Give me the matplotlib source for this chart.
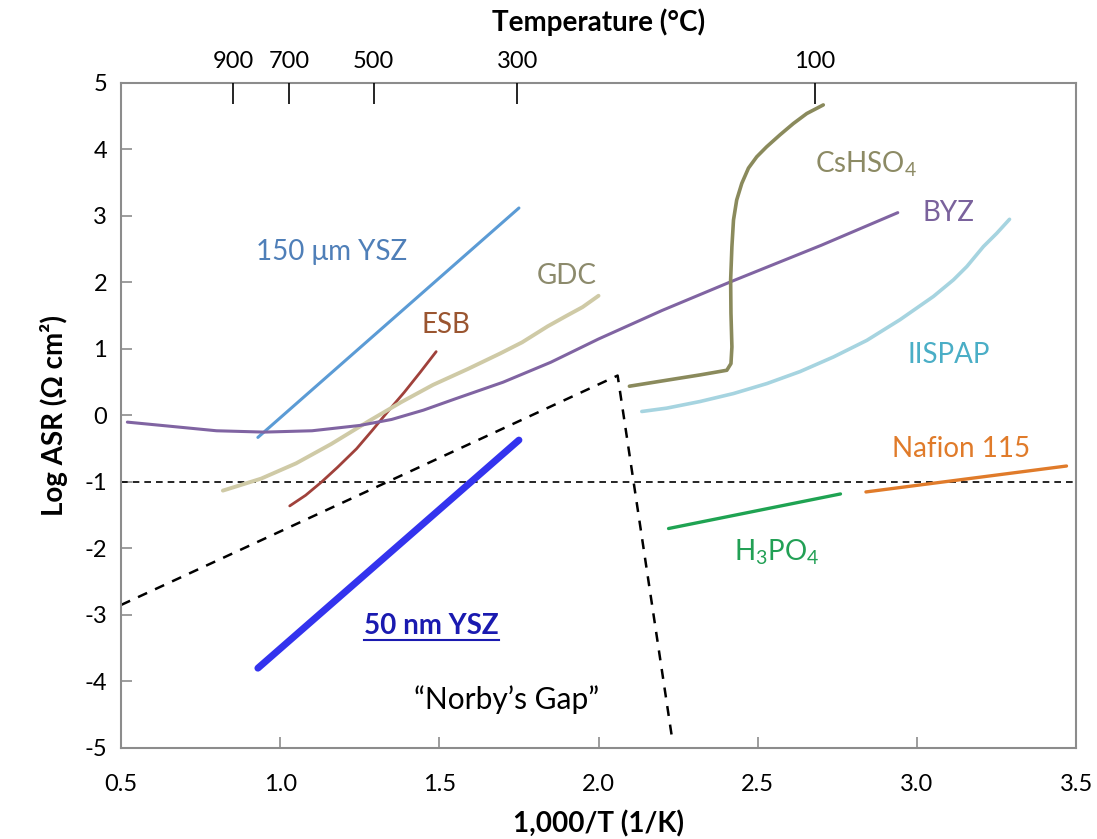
import numpy as np
import matplotlib
matplotlib.use('Agg')
import matplotlib.pyplot as plt
from matplotlib.lines import Line2D

plt.rcParams['font.family'] = ['Lato', 'DejaVu Sans']
plt.rcParams['mathtext.fontset'] = 'custom'
plt.rcParams['mathtext.rm'] = 'Lato'
plt.rcParams['mathtext.it'] = 'Lato:italic'
plt.rcParams['mathtext.bf'] = 'Lato:bold'
plt.rcParams['axes.unicode_minus'] = False

# ---- values (x = 1000/T, y = log ASR) ----
ysz150_x = [0.93, 1.75]
ysz150_y = [-0.33, 3.12]

ysz50_x = [0.93, 1.75]
ysz50_y = [-3.80, -0.37]

esb_x = [1.03, 1.08, 1.13, 1.18, 1.24, 1.29, 1.34, 1.39, 1.44, 1.49]
esb_y = [-1.36, -1.20, -1.00, -0.78, -0.50, -0.22, 0.07, 0.35, 0.65, 0.96]

gdc_x = [0.82, 0.94, 1.05, 1.16, 1.28, 1.38, 1.48, 1.59, 1.69, 1.76, 1.80, 1.84, 1.90, 1.95, 2.00]
gdc_y = [-1.13, -0.95, -0.72, -0.43, -0.08, 0.20, 0.46, 0.70, 0.93, 1.10, 1.22, 1.34, 1.50, 1.63, 1.80]

byz_x = [0.52, 0.65, 0.80, 0.95, 1.10, 1.25, 1.35, 1.45, 1.55, 1.70, 1.85, 2.00, 2.20, 2.42, 2.70, 2.94]
byz_y = [-0.10, -0.16, -0.23, -0.25, -0.23, -0.15, -0.06, 0.08, 0.25, 0.50, 0.80, 1.15, 1.58, 2.02, 2.56, 3.05]

cshso4_x = [2.097, 2.214, 2.319, 2.403, 2.416, 2.419, 2.416, 2.415, 2.419, 2.424, 2.434,
            2.450, 2.471, 2.497, 2.528, 2.570, 2.612, 2.654, 2.706]
cshso4_y = [0.44, 0.53, 0.61, 0.68, 0.78, 1.03, 1.54, 2.04, 2.54, 2.94, 3.24,
            3.49, 3.72, 3.89, 4.04, 4.22, 4.39, 4.54, 4.67]

iispap_x = [2.136, 2.214, 2.319, 2.424, 2.529, 2.633, 2.738, 2.843, 2.947, 3.052,
            3.115, 3.157, 3.209, 3.251, 3.291]
iispap_y = [0.06, 0.11, 0.21, 0.33, 0.48, 0.66, 0.88, 1.13, 1.44, 1.79,
            2.04, 2.24, 2.54, 2.74, 2.95]

h3po4_x = [2.22, 2.76]
h3po4_y = [-1.70, -1.18]

nafion_x = [2.84, 3.47]
nafion_y = [-1.15, -0.76]

gap_x = [0.50, 2.06, 2.23]
gap_y = [-2.85, 0.60, -4.82]

target_x = [0.5, 3.5]
target_y = [-1.0, -1.0]

temp_c = [900, 700, 500, 300, 100]

fig = plt.figure(figsize=(10.97, 8.39), dpi=100)
ax = fig.add_axes([0.1103, 0.1085, 0.8706, 0.7926])

ax.plot(target_x, target_y, color='black', lw=1.2, dashes=(4, 3))
ax.plot(gap_x, gap_y, color='black', lw=1.8, dashes=(4, 3.5))

ax.plot(ysz150_x, ysz150_y, color='#5b9bd5', lw=2.2, solid_capstyle='round')
ax.plot(ysz50_x, ysz50_y, color='#3333ee', lw=5, solid_capstyle='round')
ax.plot(esb_x, esb_y, color='#a0413b', lw=2.0, solid_capstyle='round')
ax.plot(gdc_x, gdc_y, color='#cfcaa6', lw=2.8, solid_capstyle='round')
ax.plot(byz_x, byz_y, color='#8064a2', lw=2.2, solid_capstyle='round')
ax.plot(cshso4_x, cshso4_y, color='#8a8a5c', lw=2.6, solid_capstyle='round')
ax.plot(iispap_x, iispap_y, color='#a6d4e0', lw=2.6, solid_capstyle='round')
ax.plot(h3po4_x, h3po4_y, color='#1fa352', lw=2.4, solid_capstyle='round')
ax.plot(nafion_x, nafion_y, color='#e07b2a', lw=2.4, solid_capstyle='round')

lab = dict(fontsize=20, ha='center', va='center')
ax.text(1.16, 2.46, '150 μm YSZ', color='#4f7fb8', **lab)
ax.text(1.52, 1.36, 'ESB', color='#9a5530', **lab)
ax.text(1.90, 2.10, 'GDC', color='#8c8a6c', **lab)
ax.text(2.84, 3.78, 'CsHSO$_4$', color='#8c8a64', **lab)
ax.text(3.10, 3.04, 'BYZ', color='#7a629c', **lab)
ax.text(3.10, 0.91, 'IISPAP', color='#4aaec6', **lab)
ax.text(3.14, -0.50, 'Nafion 115', color='#e07b2a', **lab)
ax.text(2.56, -2.06, 'H$_3$PO$_4$', color='#22a055', **lab)
ax.text(1.71, -4.28, '\u201cNorby\u2019s Gap\u201d', color='black', fontsize=21.5,
        ha='center', va='center')
t50 = ax.text(1.475, -3.17, '50 nm YSZ', color='#1a1ab0', fontweight='bold', **lab)

ax.set_xlim(0.5, 3.5)
ax.set_ylim(-5, 5)
ax.set_xticks([0.5, 1.0, 1.5, 2.0, 2.5, 3.0, 3.5])
ax.set_xticklabels(['0.5', '1.0', '1.5', '2.0', '2.5', '3.0', '3.5'])
ax.set_yticks(range(-5, 6))
ax.tick_params(axis='both', direction='in', length=8, width=1.2, color='#8c8c8c',
               labelsize=17, pad=10)
ax.tick_params(axis='x', pad=19)
for s in ax.spines.values():
    s.set_color('#8c8c8c')
    s.set_linewidth(1.5)

ax.set_xlabel('1,000/T (1/K)', fontsize=20, fontweight='bold', labelpad=11)
ax.set_ylabel('Log ASR (Ω cm²)', fontsize=20, fontweight='bold', labelpad=12)

top = ax.twiny()
top.set_xlim(ax.get_xlim())
top.set_xticks([1000.0 / (t + 273.15) for t in temp_c])
top.set_xticklabels([str(t) for t in temp_c])
top.tick_params(axis='x', direction='in', length=15, width=1.2, color='black',
                labelsize=17, pad=8)
for s in top.spines.values():
    s.set_visible(False)
top.set_xlabel('Temperature (°C)', fontsize=20, fontweight='bold', labelpad=14)

# underline under the bold "50 nm YSZ" label
fig.canvas.draw()
bb = t50.get_window_extent()
inv = ax.transData.inverted()
(x0, y0), (x1, _) = inv.transform([(bb.x0, bb.y0 - 1), (bb.x1, bb.y0 - 1)])
ax.add_line(Line2D([x0, x1], [y0, y0], color='#1a1ab0', lw=1.5))

fig.savefig('out.png', dpi=100)
